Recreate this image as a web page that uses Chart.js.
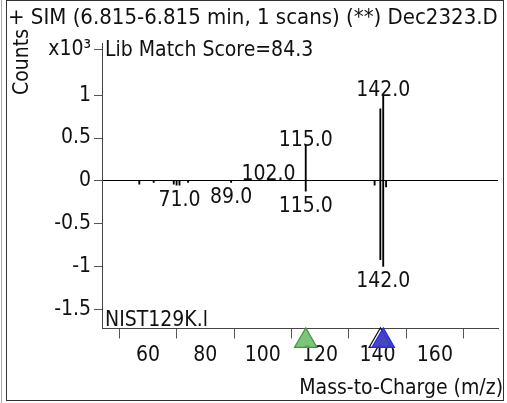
<!DOCTYPE html>
<html><head><meta charset="utf-8">
<script src="https://cdn.jsdelivr.net/npm/chart.js@4.4.0/dist/chart.umd.min.js"></script>
<style>html,body{margin:0;padding:0;background:#fff;overflow:hidden}</style>
</head><body>
<canvas id="c" width="507" height="403" style="display:block;width:507px;height:403px"></canvas>
<script>
// ---- data ----
const titleText = '+ SIM (6.815-6.815 min, 1 scans) (**) Dec2323.D';
const matchText = 'Lib Match Score=84.3';
const libText = 'NIST129K.l';
const yTitleText = 'Counts';
const xTitleText = 'Mass-to-Charge (m/z)';
const xTicks = [60, 80, 100, 120, 140, 160, 180];
const xTickLabels = ['60', '80', '100', '120', '140', '160', ''];
const yTicks = [-1.5, -1, -0.5, 0, 0.5, 1];
const yTickLabels = ['-1.5', '-1', '-0.5', '0', '0.5', '1'];
const yExpTick = 1.53;
const yExpLabel = 'x10³';
const sampleMz = [102, 115, 141, 142];
const sampleCounts = [0.02, 0.42, 0.84, 1.0];
const libMz = [57, 62, 69, 70, 71, 74, 89, 115, 139, 141, 142, 143];
const libCounts = [-0.04, -0.02, -0.04, -0.05, -0.05, -0.02, -0.02, -0.12, -0.05, -0.92, -1.0, -0.07];
const sampleLabelMz = [102, 115, 142];
const libLabelMz = [71, 89, 115, 142];
const markerMz = [115, 141, 142];
const markerLevel = [-1.87, -1.87, -1.87];

const FONT = '"DejaVu Sans Condensed", "DejaVu Sans", sans-serif';
const FS = 21;

function valAt(mzArr, cArr, mz) { return cArr[mzArr.indexOf(mz)]; }

const textPlugin = {
  id: 'texts',
  beforeDraw(chart) {
    const ctx = chart.ctx;
    ctx.save();
    ctx.fillStyle = '#fff';
    ctx.fillRect(0, 0, chart.width, chart.height);
    ctx.restore();
  },
  afterDraw(chart) {
    const ctx = chart.ctx;
    const xs = chart.scales.x, ys = chart.scales.y;
    ctx.save();
    ctx.fillStyle = '#111';
    ctx.textAlign = 'left';
    ctx.textBaseline = 'alphabetic';
    ctx.font = '22px ' + FONT;
    ctx.fillText(titleText, 8, 24);
    ctx.font = FS + 'px ' + FONT;
    ctx.fillText(matchText, chart.chartArea.left + 3, 56);
    ctx.fillText(libText, chart.chartArea.left + 3, 326);
    ctx.textAlign = 'right';
    ctx.fillText(xTitleText, 503, 394);
    // y title
    ctx.save();
    ctx.translate(28, 62);
    ctx.rotate(-Math.PI / 2);
    ctx.textAlign = 'center';
    ctx.fillText(yTitleText, 0, 0);
    ctx.restore();
    // peak labels
    ctx.textAlign = 'center';
    ctx.textBaseline = 'alphabetic';
    sampleLabelMz.forEach(mz => {
      const v = valAt(sampleMz, sampleCounts, mz);
      ctx.fillText(mz.toFixed(1), xs.getPixelForValue(mz), ys.getPixelForValue(v) + 1);
    });
    ctx.textBaseline = 'top';
    libLabelMz.forEach(mz => {
      const v = valAt(libMz, libCounts, mz);
      ctx.fillText(mz.toFixed(1), xs.getPixelForValue(mz), ys.getPixelForValue(v) + 5);
    });
    // frame
    ctx.strokeStyle = '#333';
    ctx.lineWidth = 1;
    ctx.strokeRect(6.5, 0.5, 497, 400);
    ctx.strokeStyle = '#aaa';
    ctx.beginPath(); ctx.moveTo(1.5, 0); ctx.lineTo(1.5, 403); ctx.stroke();
    ctx.restore();
  }
};

new Chart(document.getElementById('c'), {
  type: 'bar',
  data: {
    datasets: [
      {
        label: 'sample',
        data: sampleMz.map((m, i) => ({ x: m, y: sampleCounts[i] })),
        backgroundColor: '#000',
        borderWidth: 0,
        barThickness: 1.2,
        grouped: false,
        order: 2
      },
      {
        label: 'library',
        data: libMz.map((m, i) => ({ x: m, y: libCounts[i] })),
        backgroundColor: '#000',
        borderWidth: 0,
        barThickness: 1.2,
        grouped: false,
        order: 2
      },
      {
        type: 'scatter',
        label: 'markers',
        data: markerMz.map((m, i) => ({ x: m, y: markerLevel[i] })),
        pointStyle: 'triangle',
        pointRadius: 13,
        pointHoverRadius: 13,
        backgroundColor: ['rgba(110,190,110,0.9)', 'rgba(0,0,0,0)', 'rgba(60,60,190,0.95)'],
        borderColor: ['#3c9c3c', '#111', '#2525ff'],
        borderWidth: 1.2,
        clip: false,
        order: 1
      }
    ]
  },
  options: {
    responsive: false,
    animation: false,
    devicePixelRatio: 1,
    layout: { autoPadding: false, padding: { top: 43, right: 9, left: 0, bottom: 0 } },
    plugins: { legend: { display: false }, tooltip: { enabled: false }, title: { display: false } },
    scales: {
      x: {
        type: 'linear',
        min: 44, max: 182,
        offset: false,
        position: 'bottom',
        afterBuildTicks: s => { s.ticks = xTicks.map(v => ({ value: v })); },
        afterFit: s => { s.height = 74.5; s.paddingLeft = 0; s.paddingRight = 0; },
        grid: { drawOnChartArea: false, drawTicks: true, tickLength: 10, tickColor: '#555', color: '#555' },
        border: { display: true, color: '#444', width: 1 },
        ticks: {
          autoSkip: false, maxRotation: 0, padding: 4, color: '#111',
          font: { family: FONT, size: FS },
          callback: v => { const i = xTicks.indexOf(v); return i >= 0 ? xTickLabels[i] : ''; }
        }
      },
      y: {
        type: 'linear',
        min: -1.725, max: 1.61,
        position: 'left',
        afterBuildTicks: s => { s.ticks = yTicks.map(v => ({ value: v })).concat([{ value: yExpTick }]); },
        afterFit: s => { s.width = 102; s.paddingTop = 0; s.paddingBottom = 0; },
        grid: {
          drawTicks: true, tickLength: 8, tickColor: '#555',
          color: c => (c.tick && c.tick.value === 0) ? '#000' : 'rgba(0,0,0,0)',
          lineWidth: 1
        },
        border: { display: true, color: '#444', width: 1 },
        ticks: {
          autoSkip: false, padding: 3, color: '#111',
          font: { family: FONT, size: FS },
          callback: v => { if (v === yExpTick) return yExpLabel; const i = yTicks.indexOf(v); return i >= 0 ? yTickLabels[i] : ''; }
        }
      }
    }
  },
  plugins: [textPlugin]
});
</script>
</body></html>
